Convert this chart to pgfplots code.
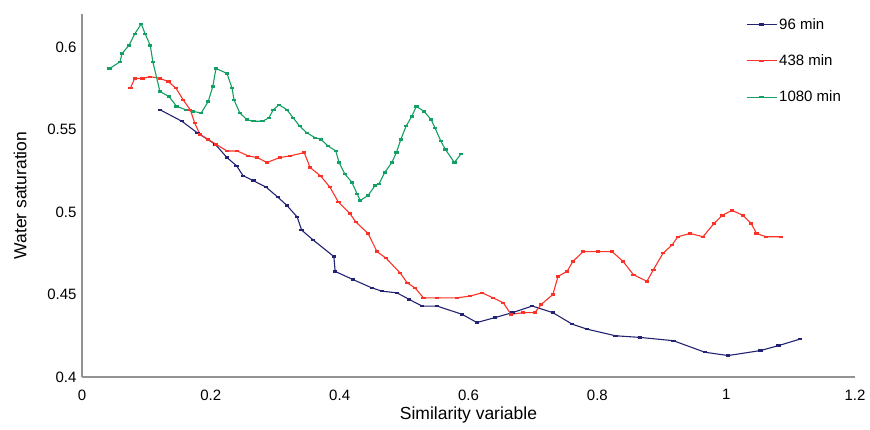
\documentclass[border=0pt]{standalone}
\usepackage{fontspec}
\setmainfont{Liberation Sans}
\usepackage{pgfplots}
\pgfplotsset{compat=1.18}

\definecolor{c96}{RGB}{35,35,115}
\definecolor{c438}{RGB}{250,50,40}
\definecolor{c1080}{RGB}{20,160,100}

\pgfplotstableread{
x y
0.121 0.562
0.155 0.555
0.179 0.548
0.207 0.541
0.225 0.533
0.240 0.528
0.250 0.522
0.266 0.519
0.286 0.515
0.304 0.509
0.318 0.504
0.334 0.497
0.341 0.489
0.359 0.483
0.391 0.473
0.393 0.464
0.421 0.459
0.450 0.454
0.466 0.452
0.489 0.451
0.508 0.447
0.528 0.443
0.551 0.443
0.590 0.438
0.613 0.433
0.641 0.436
0.668 0.439
0.699 0.443
0.731 0.439
0.761 0.432
0.784 0.429
0.828 0.425
0.866 0.424
0.918 0.422
0.967 0.415
1.003 0.413
1.053 0.416
1.081 0.419
1.115 0.423
}\tblA

\pgfplotstableread{
x y
0.075 0.575
0.082 0.581
0.094 0.581
0.106 0.582
0.121 0.581
0.134 0.579
0.146 0.575
0.157 0.568
0.168 0.562
0.175 0.554
0.183 0.547
0.196 0.544
0.208 0.541
0.225 0.537
0.241 0.537
0.258 0.534
0.272 0.533
0.287 0.530
0.307 0.533
0.323 0.534
0.345 0.536
0.354 0.527
0.370 0.522
0.385 0.515
0.398 0.506
0.416 0.499
0.425 0.494
0.444 0.487
0.458 0.476
0.472 0.472
0.494 0.463
0.505 0.457
0.517 0.454
0.530 0.448
0.551 0.448
0.582 0.448
0.602 0.449
0.621 0.451
0.638 0.448
0.654 0.445
0.666 0.438
0.685 0.439
0.703 0.439
0.713 0.444
0.731 0.450
0.739 0.461
0.753 0.464
0.762 0.470
0.778 0.476
0.801 0.476
0.823 0.476
0.840 0.470
0.856 0.462
0.877 0.458
0.887 0.465
0.902 0.475
0.916 0.480
0.925 0.485
0.944 0.487
0.964 0.485
0.981 0.493
0.994 0.498
1.009 0.501
1.026 0.498
1.039 0.493
1.047 0.487
1.062 0.485
1.085 0.485
}\tblB

\pgfplotstableread{
x y
0.043 0.587
0.059 0.591
0.062 0.596
0.073 0.601
0.082 0.608
0.092 0.614
0.098 0.608
0.106 0.601
0.110 0.591
0.121 0.573
0.135 0.570
0.147 0.564
0.161 0.562
0.172 0.561
0.185 0.560
0.196 0.567
0.203 0.576
0.208 0.587
0.225 0.584
0.233 0.575
0.236 0.568
0.245 0.560
0.256 0.556
0.266 0.555
0.280 0.555
0.290 0.557
0.297 0.562
0.306 0.565
0.318 0.562
0.328 0.557
0.338 0.552
0.349 0.548
0.362 0.545
0.371 0.544
0.382 0.540
0.394 0.537
0.399 0.530
0.408 0.523
0.419 0.518
0.427 0.511
0.432 0.507
0.444 0.510
0.455 0.516
0.461 0.517
0.470 0.524
0.481 0.530
0.488 0.536
0.495 0.544
0.503 0.552
0.512 0.558
0.519 0.564
0.531 0.561
0.542 0.556
0.548 0.551
0.557 0.543
0.564 0.538
0.578 0.530
0.588 0.535
}\tblC

\begin{document}
\begin{tikzpicture}
\useasboundingbox (-82pt,-52pt) rectangle (788pt,377pt);
\begin{axis}[
    scale only axis,
    width=773pt, height=363pt,
    xmin=0, xmax=1.2,
    ymin=0.4, ymax=0.62,
    xtick={0,0.2,0.4,0.6,0.8,1,1.2},
    ytick={0.4,0.45,0.5,0.55,0.6},
    axis lines*=left,
    axis line style={gray!85, line width=1.2pt},
    major tick length=0pt,
    /pgf/number format/assume math mode=true,
    tick label style={font=\fontsize{15}{18}\selectfont},
    xticklabel style={yshift=-9pt},
    yticklabel style={xshift=-2pt},
    xlabel={Similarity variable},
    ylabel={Water saturation},
    every axis x label/.style={at={(axis description cs:0.5,0)}, anchor=north, yshift=-26pt,
        font=\fontsize{17.5}{21}\selectfont},
    every axis y label/.style={at={(axis description cs:-0.08,0.5)}, anchor=center, rotate=90,
        font=\fontsize{17.5}{21}\selectfont},
    legend style={at={(axis description cs:0.855,1.0)}, anchor=north west, draw=none, fill=none,
        row sep=20pt, font=\fontsize{15}{18}\selectfont},
    legend cell align=left,
    legend image code/.code={\draw[mark repeat=2, mark phase=2] plot coordinates {(0pt,0pt) (15pt,0pt) (30pt,0pt)};},
    every axis plot/.append style={line width=1.1pt, mark=-, mark size=2.2pt, mark options={solid, line width=2.4pt}},
]
\addplot[color=c96] table {\tblA};
\addlegendentry{96 min}
\addplot[color=c438] table {\tblB};
\addlegendentry{438 min}
\addplot[color=c1080] table {\tblC};
\addlegendentry{1080 min}
\end{axis}
\end{tikzpicture}
\end{document}
